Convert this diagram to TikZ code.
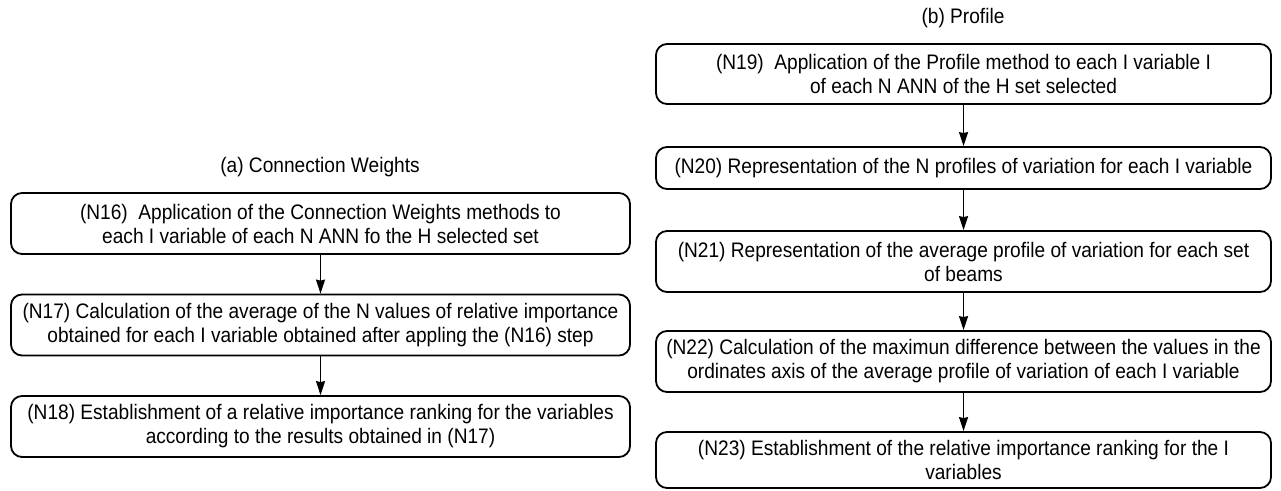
\documentclass[tikz,border=0pt]{standalone}
\usepackage{fontspec}
\setmainfont[FakeStretch=0.91]{Liberation Sans}
\usetikzlibrary{arrows.meta}
\begin{document}
\begin{tikzpicture}[x=1pt,y=-1pt,
  stepbox/.style={draw, line width=1.8pt, rounded corners=11pt, align=center,
    inner sep=0pt, font=\fontsize{21}{24}\selectfont},
  ttl/.style={font=\fontsize{21}{24}\selectfont, inner sep=0pt},
  arr/.style={line width=1.6pt, -{Stealth[length=14pt,width=9pt,inset=1pt]}}]
\useasboundingbox (0,0) rectangle (1281,490);
% left column
\node[ttl] (ta) at (320,167) {(a) Connection Weights};
\node[stepbox, minimum width=619pt, minimum height=61pt] (n16) at (320.5,223.5)
  {(N16)\ \ Application of the Connection Weights methods to\\each I variable of each N ANN fo the H selected set};
\node[stepbox, minimum width=619pt, minimum height=61pt] (n17) at (320.5,325)
  {(N17) Calculation of the average of the N values of relative importance\\obtained for each I variable obtained after appling the (N16) step};
\node[stepbox, minimum width=619pt, minimum height=61pt] (n18) at (320.5,426.5)
  {(N18) Establishment of a relative importance ranking for the variables\\according to the results obtained in (N17)};
\draw[arr] (n16) -- (n17);
\draw[arr] (n17) -- (n18);
% right column
\node[ttl] (tb) at (963,18) {(b) Profile};
\node[stepbox, minimum width=615pt, minimum height=60pt] (n19) at (963.5,74)
  {(N19)\ \ Application of the Profile method to each I variable I\\of each N ANN of the H set selected};
\node[stepbox, minimum width=615pt, minimum height=42pt] (n20) at (963.5,168)
  {(N20) Representation of the N profiles of variation for each I variable};
\node[stepbox, minimum width=615pt, minimum height=61pt] (n21) at (963.5,261.5)
  {(N21) Representation of the average profile of variation for each set\\of beams};
\node[stepbox, minimum width=615pt, minimum height=61pt] (n22) at (963.5,361.5)
  {(N22) Calculation of the maximun difference between the values in the\\ordinates axis of the average profile of variation of each I variable};
\node[stepbox, minimum width=615pt, minimum height=56pt] (n23) at (963.5,460)
  {(N23) Establishment of the relative importance ranking for the I\\variables};
\draw[arr] (n19) -- (n20);
\draw[arr] (n20) -- (n21);
\draw[arr] (n21) -- (n22);
\draw[arr] (n22) -- (n23);
\end{tikzpicture}
\end{document}
